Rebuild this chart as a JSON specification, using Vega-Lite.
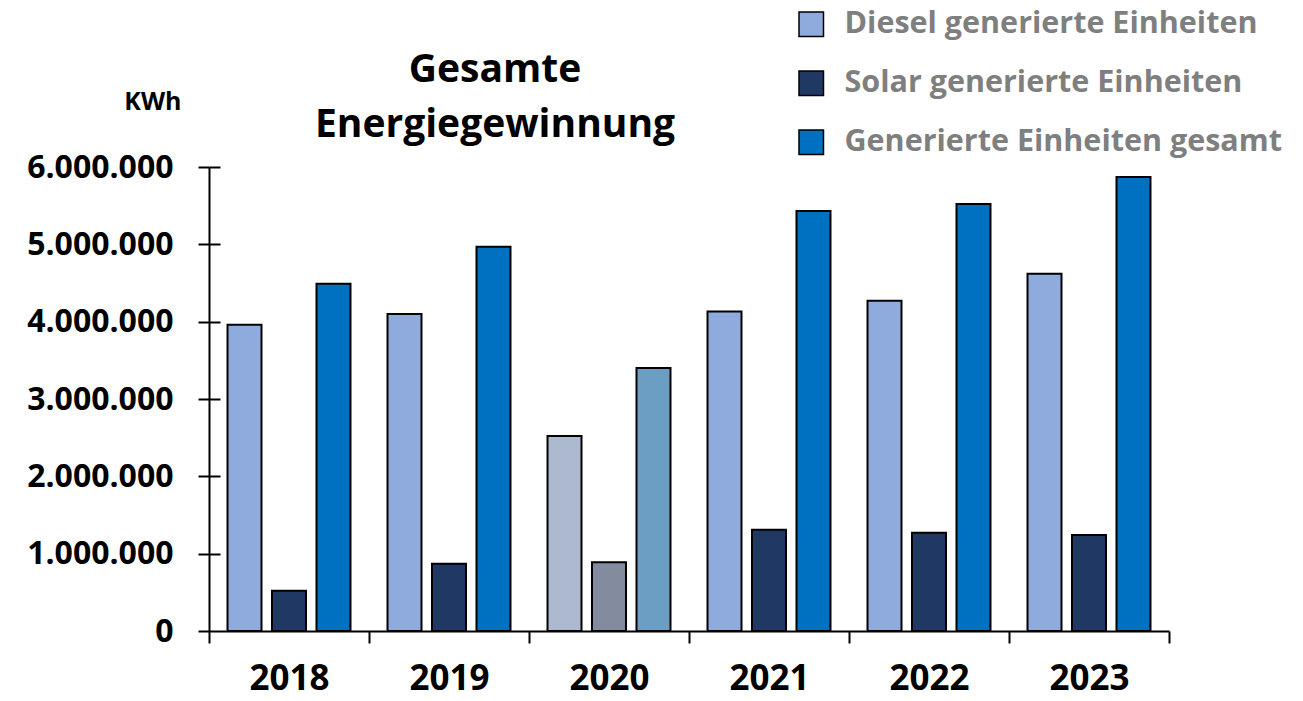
{
  "$schema": "https://vega.github.io/schema/vega-lite/v6.json",
  "width": 960,
  "height": 464,
  "autosize": {"type": "none"},
  "padding": {"left": 209, "top": 167, "right": 134, "bottom": 70},
  "background": "white",
  "config": {"font": "Open Sans", "view": {"stroke": null}},
  "title": {
    "text": ["Gesamte", "Energiegewinnung"],
    "fontSize": 39,
    "fontWeight": "bold",
    "color": "black",
    "lineHeight": 55,
    "anchor": "middle",
    "frame": "group",
    "baseline": "top",
    "dx": -194,
    "dy": 140
  },
  "data": {
    "values": [
      {"Jahr": "2018", "Serie": "Diesel generierte Einheiten", "KWh": 3960000},
      {"Jahr": "2018", "Serie": "Solar generierte Einheiten", "KWh": 520000},
      {"Jahr": "2018", "Serie": "Generierte Einheiten gesamt", "KWh": 4490000},
      {"Jahr": "2019", "Serie": "Diesel generierte Einheiten", "KWh": 4100000},
      {"Jahr": "2019", "Serie": "Solar generierte Einheiten", "KWh": 870000},
      {"Jahr": "2019", "Serie": "Generierte Einheiten gesamt", "KWh": 4970000},
      {"Jahr": "2020", "Serie": "Diesel generierte Einheiten", "KWh": 2520000},
      {"Jahr": "2020", "Serie": "Solar generierte Einheiten", "KWh": 890000},
      {"Jahr": "2020", "Serie": "Generierte Einheiten gesamt", "KWh": 3400000},
      {"Jahr": "2021", "Serie": "Diesel generierte Einheiten", "KWh": 4130000},
      {"Jahr": "2021", "Serie": "Solar generierte Einheiten", "KWh": 1310000},
      {"Jahr": "2021", "Serie": "Generierte Einheiten gesamt", "KWh": 5430000},
      {"Jahr": "2022", "Serie": "Diesel generierte Einheiten", "KWh": 4270000},
      {"Jahr": "2022", "Serie": "Solar generierte Einheiten", "KWh": 1270000},
      {"Jahr": "2022", "Serie": "Generierte Einheiten gesamt", "KWh": 5520000},
      {"Jahr": "2023", "Serie": "Diesel generierte Einheiten", "KWh": 4620000},
      {"Jahr": "2023", "Serie": "Solar generierte Einheiten", "KWh": 1240000},
      {"Jahr": "2023", "Serie": "Generierte Einheiten gesamt", "KWh": 5870000}
    ]
  },
  "encoding": {
    "x": {
      "field": "Jahr",
      "type": "nominal",
      "scale": {"paddingInner": 0, "paddingOuter": 0},
      "axis": {
        "title": null,
        "labelAngle": 0,
        "labelFontSize": 35,
        "labelFontWeight": "bold",
        "labelColor": "black",
        "labelPadding": 18,
        "tickSize": 12,
        "tickWidth": 2,
        "tickColor": "black",
        "tickBand": "extent",
        "domainColor": "black",
        "domainWidth": 2
      }
    },
    "xOffset": {
      "field": "Serie",
      "type": "nominal",
      "sort": ["Diesel generierte Einheiten", "Solar generierte Einheiten", "Generierte Einheiten gesamt"],
      "scale": {"paddingInner": 0.236, "paddingOuter": 0.416}
    }
  },
  "layer": [
    {
      "transform": [{"filter": "datum.Jahr != '2020'"}],
      "mark": {"type": "bar", "stroke": "black", "strokeWidth": 2},
      "encoding": {
        "y": {
          "field": "KWh",
          "type": "quantitative",
          "scale": {"domain": [0, 6000000], "nice": false},
          "axis": {
            "title": "KWh",
            "titleAngle": 0,
            "titleAlign": "right",
            "titleBaseline": "middle",
            "titleX": -28,
            "titleY": -66,
            "titleFontSize": 25,
            "titleFontWeight": "bold",
            "titleColor": "black",
            "values": [0, 1000000, 2000000, 3000000, 4000000, 5000000, 6000000],
            "labelExpr": "replace(format(datum.value, ','), /,/g, '.')",
            "labelFontSize": 32,
            "labelFontWeight": "bold",
            "labelColor": "black",
            "labelPadding": 25,
            "tickSize": 11,
            "tickWidth": 2,
            "tickColor": "black",
            "domainColor": "black",
            "domainWidth": 2,
            "grid": false
          }
        },
        "color": {
          "field": "Serie",
          "type": "nominal",
          "scale": {
            "domain": ["Diesel generierte Einheiten", "Solar generierte Einheiten", "Generierte Einheiten gesamt"],
            "range": ["#8faadc", "#203864", "#0070c0"]
          },
          "legend": {
            "title": null,
            "orient": "none",
            "legendX": 587,
            "legendY": -158,
            "direction": "vertical",
            "symbolType": "square",
            "symbolSize": 600,
            "symbolStrokeColor": "black",
            "symbolStrokeWidth": 1.5,
            "symbolOpacity": 1,
            "labelFontSize": 30.5,
            "labelFontWeight": "bold",
            "labelColor": "#7f7f7f",
            "labelOffset": 18,
            "labelLimit": 600,
            "rowPadding": 28,
            "padding": 0
          }
        }
      }
    },
    {
      "transform": [{"filter": "datum.Jahr == '2020'"}],
      "mark": {"type": "bar", "stroke": "black", "strokeWidth": 2},
      "encoding": {
        "y": {
          "field": "KWh",
          "type": "quantitative",
          "scale": {"domain": [0, 6000000], "nice": false},
          "axis": {
            "orient": "left",
            "title": null,
            "labels": false,
            "domain": false,
            "values": [1000000, 2000000, 3000000, 4000000, 5000000, 6000000],
            "tickSize": -11,
            "tickWidth": 2,
            "tickColor": "black",
            "grid": false
          }
        },
        "color": {
          "field": "Serie",
          "type": "nominal",
          "scale": {
            "domain": ["Diesel generierte Einheiten", "Solar generierte Einheiten", "Generierte Einheiten gesamt"],
            "range": ["#acb9cf", "#838b9e", "#6c9ec3"]
          },
          "legend": null
        }
      }
    }
  ],
  "resolve": {"scale": {"color": "independent"}, "axis": {"y": "independent"}}
}
